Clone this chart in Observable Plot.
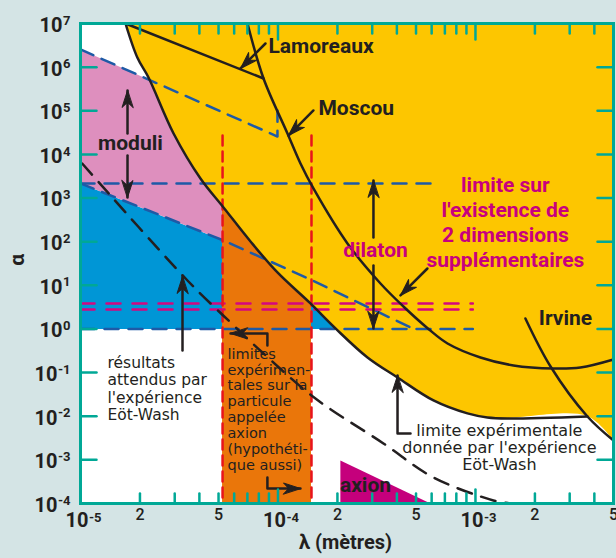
<!DOCTYPE html>
<html><head><meta charset="utf-8">
<script src="https://cdn.jsdelivr.net/npm/d3@7"></script>
<script src="https://cdn.jsdelivr.net/npm/@observablehq/plot@0.6"></script>
<style>html,body{margin:0;padding:0;background:#d4e4e5;}</style>
</head><body><div id="chart"></div>
<script>
// ---------- tick values and labels ----------
const yDecadesPos = [1,1e1,1e2,1e3,1e4,1e5,1e6,1e7];
const yExpPos = ["0","1","2","3","4","5","6","7"];
const yDecadesNeg = [1e-4,1e-3,1e-2,1e-1];
const yExpNeg = ["-4","-3","-2","-1"];
const yDecades = [...yDecadesNeg, ...yDecadesPos];
const xDecades = [1e-5,1e-4,1e-3];
const xExp = ["-5","-4","-3"];
const xMinorTicks = [2e-5,3e-5,4e-5,5e-5,6e-5,7e-5,8e-5,9e-5,2e-4,3e-4,4e-4,5e-4,6e-4,7e-4,8e-4,9e-4,2e-3,3e-3,4e-3];
const xMinorLabeled = [2e-5,5e-5,2e-4,5e-4,2e-3,5e-3];
const xMinorLabels = ["2","5","2","5","2","5"];

// ---------- curves [λ (m), α] ----------
const ewLimit = [[1.69e-5,1e7],[1.94e-5,1.66e6],[2.21e-5,5.79e5],[2.96e-5,3.02e4],[4.05e-5,2.81e3],[5.30e-5,608],[7.26e-5,101],[9.94e-5,19.7],[1.46e-4,3.84],[1.955e-4,1.03],[2.84e-4,0.222],[4.03e-4,0.0773],[6.13e-4,0.0230],[9.11e-4,0.0116],[1.15e-3,0.00937],[1.45e-3,0.00889],[3.69e-3,0.00987]];
const irvine = [[1.79e-3,1.74],[2.40e-3,0.138],[3.69e-3,0.00987],[5e-3,0.00278]];
const moscou = [[7.01e-5,1e7],[8.45e-5,5.49e5],[1.117e-4,3.02e4],[1.30e-4,6.19e3],[1.512e-4,1.656e3],[2.248e-4,90.9],[3.304e-4,11.0],[4.318e-4,3.27],[5.78e-4,1.0],[7.22e-4,0.465],[1.06e-3,0.222],[1.558e-3,0.1456],[2.483e-3,0.1243],[3.40e-3,0.131],[5e-3,0.1998]];
const lamoreaux = [[1.69e-5,1e7],[8.45e-5,5.49e5]];
const ewExpected = [[1.02e-5,6.19e3],[3.48e-5,12.9],[5.75e-5,1.41],[8.45e-5,0.274],[1.548e-4,0.0255],[3.42e-4,0.00238],[6.13e-4,3.95e-4],[1.233e-3,1.175e-4],[1.503e-3,1e-4]];
const yellowEdge = [...ewLimit, [5e-3,0.00278]];
const moduliTop = [[1e-5,2.54e6],[9.94e-5,2.57e4],[9.94e-5,1.015e5]];
const moduliBottom = [[1e-5,2.16e3],[5.30e-5,106.5],[1.495e-4,12.9],[4.69e-4,1.08]];
const dilatonTop = [[1e-5,2.16e3],[6.65e-4,2.16e3]];
const dilatonBottom = [[1e-5,1],[9.7e-4,1]];
const extraDimHigh = [[1e-5,3.83],[9.7e-4,3.83]];
const extraDimLow = [[1e-5,2.79],[9.7e-4,2.79]];
const axionMin = [[5.24e-5,2.71e4],[5.24e-5,1e-4]];
const axionMax = [[1.478e-4,2.71e4],[1.478e-4,1e-4]];
const orangeTop = [[5.24e-5,641],[7.26e-5,101],[9.94e-5,19.7],[1.46e-4,3.84],[1.478e-4,3.64]];
const bluePoly = [[1e-5,2.16e3],[5.30e-5,106.5],[1.495e-4,12.9],[4.69e-4,1.08],[4.69e-4,1],[1e-5,1]];
const pinkPoly = [[1e-5,2.54e6],[9.94e-5,2.57e4],[9.94e-5,30],[5.30e-5,106.5],[1e-5,2.16e3]];
const axionPoly = [[2.07e-4,9.69e-4],[2.07e-4,1e-4],[5.92e-4,1e-4]];

// ---------- annotation arrows (tail ... tip) ----------
const arrows = [
  {pts:[[8.64e-5,3.48e6],[6.46e-5,9.31e5]], dir:225},
  {pts:[[1.512e-4,1.015e5],[1.13e-4,2.71e4]], dir:225},
  {pts:[[1.73e-5,3.02e4],[1.73e-5,2.915e5]], dir:0},
  {pts:[[1.73e-5,9.45e3],[1.73e-5,1.03e3]], dir:180},
  {pts:[[3.044e-4,124.8],[3.044e-4,2.526e3]], dir:0},
  {pts:[[3.044e-4,28.5],[3.044e-4,1.03]], dir:180},
  {pts:[[5.71e-4,24.3],[4.17e-4,5.85]], dir:225},
  {pts:[[3.285e-5,0.321],[3.285e-5,15.9]], dir:0},
  {pts:[[8.84e-5,0.418],[8.84e-5,0.788],[5.75e-5,0.788]], dir:270},
  {pts:[[8.84e-5,3.95e-4],[8.84e-5,2.21e-4],[1.30e-4,2.21e-4]], dir:90},
  {pts:[[4.69e-4,0.00403],[4.03e-4,0.00403],[4.03e-4,0.0859]], dir:0}
];
const arrowRows = arrows.flatMap((a,i)=>a.pts.map(p=>({id:i,x:p[0],y:p[1]})));
const arrowTips = arrows.map(a=>({x:a.pts[a.pts.length-1][0], y:a.pts[a.pts.length-1][1], r:a.dir}));

// ---------- labels ----------
const startLabels = [
  {t:"Lamoreaux", x:8.95e-5, y:2.97e6},
  {t:"Moscou", x:1.603e-4, y:1.128e5}
];
const centerLabels = [
  {t:"moduli", x:1.79e-5, y:1.78e4},
  {t:"Irvine", x:2.855e-3, y:1.739},
  {t:"axion", x:2.773e-4, y:2.59e-4}
];
const magentaLabels = [
  {t:"dilaton", x:3.116e-4, y:66.3},
  {t:"limite sur\nl'existence de\n2 dimensions\nsupplémentaires", x:1.418e-3, y:287}
];

const teal = "#00a896", ink = "#231f20";
const tickShape = {draw(ctx, l){ ctx.moveTo(0,0); ctx.lineTo(0,-l); }};
const headShape = {draw(ctx, l){ ctx.moveTo(0,0); ctx.lineTo(-5.5,l); ctx.lineTo(0,l*0.7); ctx.lineTo(5.5,l); ctx.closePath(); }};
const X = d=>d[0], Y = d=>d[1];
const bold = {fontFamily:"Roboto", fontWeight:"bold", fontSize:21, fill:ink};
const reg = {fontFamily:"DejaVu Sans", fill:ink};
const tl = {fontFamily:"Roboto", fontWeight:"bold", fill:ink};

const dashed = (data, stroke, dash) => Plot.line(data, {x:X, y:Y, stroke, strokeWidth:2.5, strokeDasharray:dash});

const chart = Plot.plot({
  width:616, height:558,
  marginLeft:80, marginRight:3, marginTop:23, marginBottom:55,
  style:{background:"#d4e4e5"},
  x:{type:"log", domain:[1e-5,5e-3], axis:null},
  y:{type:"log", domain:[1e-4,1e7], axis:null},
  marks:[
    Plot.frame({fill:"white", stroke:null}),
    Plot.line(bluePoly, {x:X, y:Y, fill:"#0096d6", stroke:null}),
    Plot.line(pinkPoly, {x:X, y:Y, fill:"#de8fbe", stroke:null}),
    Plot.areaY(yellowEdge, {x:X, y1:Y, y2:1e7, fill:"#fdc600", curve:"catmull-rom"}),
    Plot.areaY(orangeTop, {x:X, y1:1e-4, y2:Y, fill:"#ea760a", curve:"catmull-rom"}),
    Plot.line(axionPoly, {x:X, y:Y, fill:"#c5007c", stroke:null}),
    dashed(moduliTop, "#1e5aa6", "14,9"),
    dashed(moduliBottom, "#1e5aa6", "14,9"),
    dashed(dilatonTop, "#1e5aa6", "14,10"),
    dashed(dilatonBottom, "#1e5aa6", "14,10"),
    dashed(extraDimHigh, "#d4077f", "14,12"),
    dashed(extraDimLow, "#d4077f", "14,12"),
    dashed(axionMin, "#e8141c", "10,6"),
    dashed(axionMax, "#e8141c", "10,6"),
    Plot.line(ewExpected, {x:X, y:Y, stroke:ink, strokeWidth:2.5, strokeDasharray:"15,10", curve:"catmull-rom"}),
    Plot.line(ewLimit, {x:X, y:Y, stroke:ink, strokeWidth:2.5, curve:"catmull-rom"}),
    Plot.line(irvine, {x:X, y:Y, stroke:ink, strokeWidth:2.5, curve:"catmull-rom"}),
    Plot.line(moscou, {x:X, y:Y, stroke:ink, strokeWidth:2.5, curve:"catmull-rom"}),
    Plot.line(lamoreaux, {x:X, y:Y, stroke:ink, strokeWidth:2.5}),
    Plot.line(arrowRows, {x:"x", y:"y", z:"id", stroke:ink, strokeWidth:2.5}),
    Plot.vector(arrowTips, {x:"x", y:"y", rotate:"r", length:17, anchor:"start", shape:headShape, fill:ink, stroke:ink, strokeWidth:1}),
    Plot.text(startLabels, {x:"x", y:"y", text:"t", textAnchor:"start", ...bold}),
    Plot.text(centerLabels, {x:"x", y:"y", text:"t", textAnchor:"middle", ...bold}),
    Plot.text(magentaLabels, {x:"x", y:"y", text:"t", ...bold, fill:"#c8007e", lineHeight:1.19}),
    Plot.text(["résultats\nattendus par\nl'expérience\nEöt-Wash"], {x:1.37e-5, y:0.04326, text:d=>d, textAnchor:"start", fontSize:15.5, lineHeight:1.13, ...reg}),
    Plot.text(["limites\nexpérimen-\ntales sur la\nparticule\nappelée\naxion\n(hypothéti-\nque aussi)"], {x:5.55e-5, y:0.01443, text:d=>d, textAnchor:"start", fontSize:14.5, lineHeight:1.1, ...reg}),
    Plot.text(["limite expérimentale\ndonnée par l'expérience\nEöt-Wash"], {x:1.322e-3, y:0.001924, text:d=>d, textAnchor:"middle", fontSize:16, lineHeight:1.08, ...reg}),
    // ticks
    Plot.vector(yDecades, {x:1e-5, y:d=>d, rotate:90, length:16, anchor:"start", shape:tickShape, stroke:teal, strokeWidth:2.5}),
    Plot.vector(yDecades, {x:5e-3, y:d=>d, rotate:270, length:16, anchor:"start", shape:tickShape, stroke:teal, strokeWidth:2.5}),
    Plot.vector(xMinorTicks, {x:d=>d, y:1e7, rotate:180, length:10, anchor:"start", shape:tickShape, stroke:teal, strokeWidth:2.5}),
    Plot.vector(xMinorTicks, {x:d=>d, y:1e-4, rotate:0, length:10, anchor:"start", shape:tickShape, stroke:teal, strokeWidth:2.5}),
    Plot.vector(xDecades, {x:d=>d, y:1e7, rotate:180, length:16, anchor:"start", shape:tickShape, stroke:teal, strokeWidth:2.5}),
    Plot.vector(xDecades, {x:d=>d, y:1e-4, rotate:0, length:14, anchor:"start", shape:tickShape, stroke:teal, strokeWidth:2.5}),
    Plot.frame({stroke:teal, strokeWidth:3}),
    // y tick labels: "10" + exponent
    Plot.text(yDecadesPos, {frameAnchor:"left", y:d=>d, text:()=>"10", textAnchor:"end", dx:-18, dy:2, fontSize:20, ...tl}),
    Plot.text(yDecadesNeg, {frameAnchor:"left", y:d=>d, text:()=>"10", textAnchor:"end", dx:-23, dy:2, fontSize:20, ...tl}),
    Plot.text(yDecadesPos, {frameAnchor:"left", y:d=>d, text:(d,i)=>yExpPos[i], textAnchor:"end", dx:-10, dy:-3, fontSize:13, ...tl}),
    Plot.text(yDecadesNeg, {frameAnchor:"left", y:d=>d, text:(d,i)=>yExpNeg[i], textAnchor:"end", dx:-10, dy:-3, fontSize:13, ...tl}),
    // x tick labels
    Plot.text(xDecades, {frameAnchor:"bottom", x:d=>d, text:()=>"10", textAnchor:"end", dx:8, dy:23, fontSize:20, ...tl}),
    Plot.text(xDecades, {frameAnchor:"bottom", x:d=>d, text:(d,i)=>xExp[i], textAnchor:"start", dx:8.5, dy:18, fontSize:13, ...tl}),
    Plot.text(xMinorLabeled, {frameAnchor:"bottom", x:d=>d, text:(d,i)=>xMinorLabels[i], dy:16, fontFamily:"Roboto", fontWeight:500, fontSize:16, fill:ink}),
    Plot.text(["λ (mètres)"], {frameAnchor:"bottom", x:2.197e-4, text:d=>d, dy:45, fontSize:20, ...tl}),
    Plot.text(["α"], {frameAnchor:"left", y:28, text:d=>d, dx:-63, rotate:-90, fontSize:21, ...tl})
  ]
});
document.getElementById("chart").append(chart);
</script>
</body></html>
